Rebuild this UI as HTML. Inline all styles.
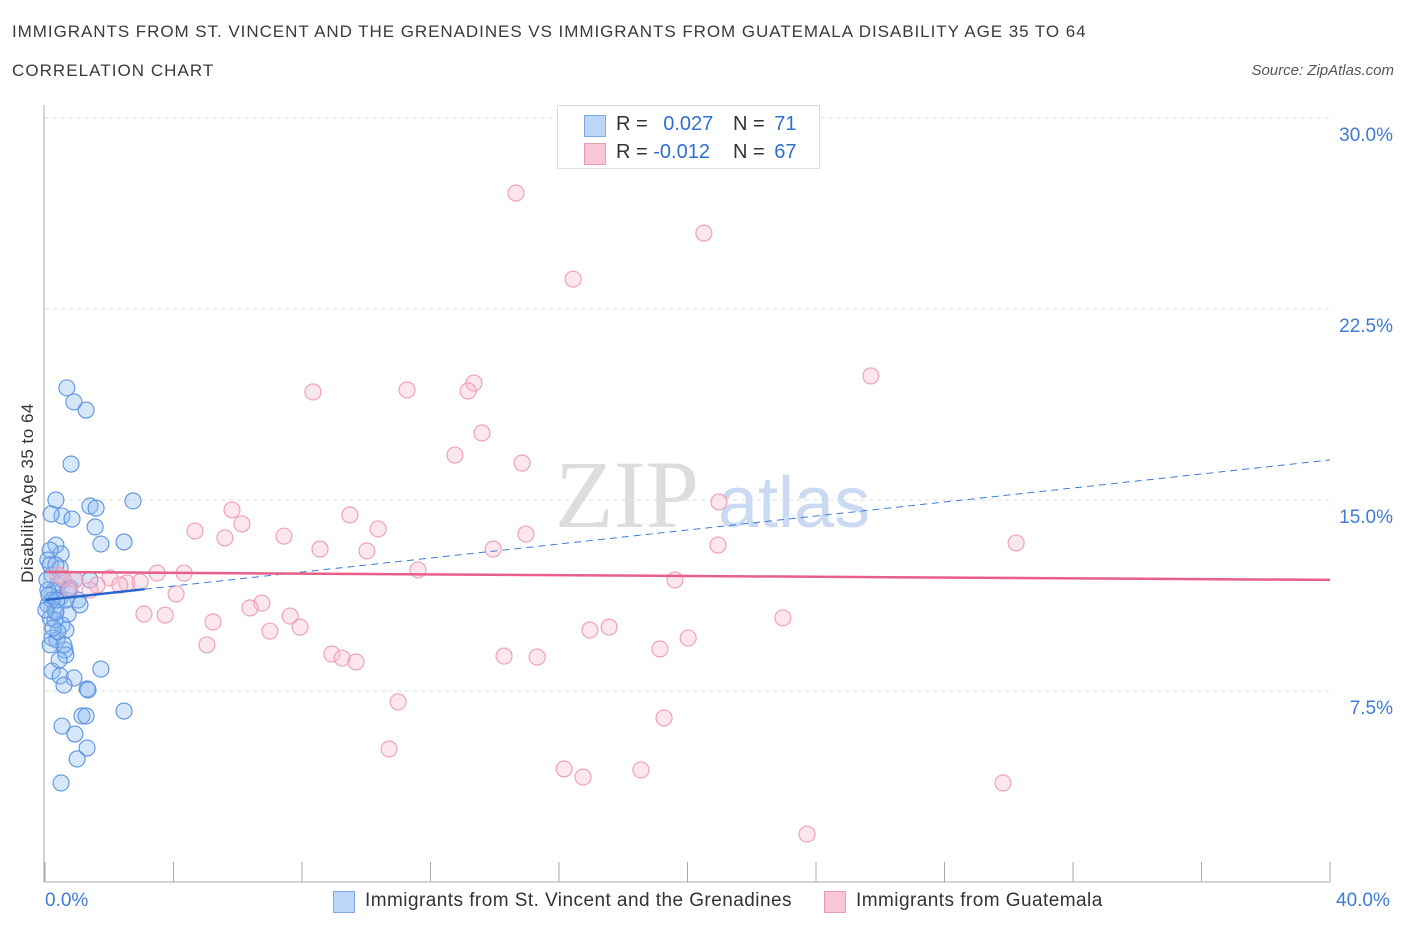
<!DOCTYPE html>
<html><head><meta charset="utf-8"><style>
body{margin:0;background:#fff;font-family:"Liberation Sans",sans-serif;}
.t{position:absolute;color:#333;}
</style></head><body>
<div style="position:relative;width:1406px;height:930px;overflow:hidden">
<div class="t" style="left:12px;top:22px;font-size:17px;letter-spacing:0.95px;color:#3a3a3a">IMMIGRANTS FROM ST. VINCENT AND THE GRENADINES VS IMMIGRANTS FROM GUATEMALA DISABILITY AGE 35 TO 64</div>
<div class="t" style="left:12px;top:61px;font-size:17px;letter-spacing:1.05px;color:#3a3a3a">CORRELATION CHART</div>
<div class="t" style="right:12px;top:62px;font-size:15px;font-style:italic;color:#555">Source: ZipAtlas.com</div>
<svg id="svg" width="1406" height="930" style="position:absolute;left:0;top:0"></svg>
<div style="position:absolute;left:557px;top:105px;width:261px;height:62px;border:1px solid #ddd;background:#fff;font-size:20px">
 <div style="position:absolute;left:26px;top:9px;width:20px;height:20px;background:#bcd6f7;border:1px solid #7fa9e6"></div>
 <div style="position:absolute;left:26px;top:37px;width:20px;height:20px;background:#f9c8d6;border:1px solid #eb9ab2"></div>
 <div class="t" style="left:58px;top:7px">R = <span style="color:#2f6fd0;margin-left:10px">0.027</span></div>
 <div class="t" style="left:175px;top:7px">N = <span style="color:#2f6fd0;margin-left:4px">71</span></div>
 <div class="t" style="left:58px;top:35px">R = <span style="color:#2f6fd0">-0.012</span></div>
 <div class="t" style="left:175px;top:35px">N = <span style="color:#2f6fd0;margin-left:4px">67</span></div>
</div>
<div class="t" style="left:45px;top:890px;font-size:19px;color:#3d7bd6">0.0%</div>
<div class="t" style="left:1336px;top:890px;font-size:19px;color:#3d7bd6">40.0%</div>
<div style="position:absolute;left:333px;top:891px;width:20px;height:20px;background:#bcd6f7;border:1px solid #7fa9e6"></div>
<div class="t" style="left:365px;top:890px;font-size:19px;letter-spacing:0.45px">Immigrants from St. Vincent and the Grenadines</div>
<div style="position:absolute;left:824px;top:891px;width:20px;height:20px;background:#f9c8d6;border:1px solid #eb9ab2"></div>
<div class="t" style="left:856px;top:890px;font-size:19px;letter-spacing:0.45px">Immigrants from Guatemala</div>
<div class="t" style="left:-72px;top:483px;font-size:17px;letter-spacing:0.5px;transform:rotate(-90deg);width:200px;white-space:nowrap;text-align:center">Disability Age 35 to 64</div>
</div>
<script>
const yTicks=[7.5,15,22.5,30];
const yTickLabels=["7.5%","15.0%","22.5%","30.0%"];
const blueX=[0.68,0.90,1.28,0.81,0.34,0.53,0.84,1.40,1.59,2.74,1.56,0.19,1.74,2.46,0.34,0.50,0.16,0.09,0.22,0.40,0.28,0.47,0.93,1.40,1.03,0.09,0.31,0.72,1.09,0.16,0.53,0.65,0.22,0.37,0.62,0.65,0.22,0.47,0.90,1.74,0.59,1.31,1.34,2.46,1.15,1.28,0.53,0.93,1.31,1.00,0.50,0.09,0.16,0.06,0.47,0.65,0.78,0.31,0.40,0.22,0.12,0.56,0.34,0.59,0.25,0.44,0.16,0.03,0.34,0.72,0.37];
const blueY=[19.4,18.85,18.53,16.41,15.0,14.37,14.25,14.76,14.68,14.96,13.94,14.45,13.27,13.35,13.23,12.88,13.03,12.64,12.05,11.66,11.46,11.15,11.86,11.86,11.07,10.88,10.68,10.52,10.88,10.37,10.09,9.89,9.58,9.50,9.11,8.91,8.28,8.09,8.01,8.36,7.73,7.58,7.54,6.71,6.52,6.52,6.12,5.81,5.26,4.83,3.89,11.46,12.45,11.86,12.33,11.07,11.54,10.29,9.82,11.07,11.27,11.86,10.60,9.31,9.97,8.72,9.31,10.68,12.45,11.46,11.07];
const pinkX=[14.66,20.51,16.44,25.71,8.34,11.27,13.35,13.17,13.60,12.76,14.85,20.98,5.82,9.49,6.13,4.67,5.60,10.37,7.44,14.97,20.95,30.23,8.56,10.02,13.95,3.49,4.33,11.61,19.61,2.02,2.55,2.96,0.56,0.93,1.62,4.08,6.75,6.38,3.08,3.74,5.23,7.63,7.94,7.00,16.96,17.56,22.97,20.02,19.14,5.04,8.93,9.25,9.68,14.29,15.32,10.99,19.27,10.71,16.16,16.75,18.55,29.82,23.72,0.78,0.40,1.40,2.33];
const pinkY=[27.05,25.48,23.67,19.87,19.24,19.32,19.59,19.28,17.63,16.76,16.45,14.92,14.61,14.41,14.06,13.78,13.51,13.86,13.58,13.66,13.23,13.31,13.07,13.0,13.07,12.13,12.13,12.25,11.86,11.94,11.74,11.78,11.94,11.86,11.66,11.31,10.95,10.76,10.52,10.48,10.21,10.44,10.01,9.85,9.89,10.01,10.37,9.58,9.15,9.31,8.95,8.79,8.64,8.87,8.83,7.07,6.44,5.22,4.44,4.12,4.40,3.89,1.88,11.46,12.05,11.46,11.66];
const blueTrend=[11.07,16.57];
const pinkTrend=[12.17,11.86];
const X=v=>45+v*32.125, Y=v=>882-v*25.47;
const s=document.getElementById('svg');const NS="http://www.w3.org/2000/svg";
function mk(t,a){const e=document.createElementNS(NS,t);for(const k in a)e.setAttribute(k,a[k]);s.appendChild(e);return e;}
yTicks.forEach((v,i)=>{
 const g=mk('line',{x1:45,x2:1330,y1:Y(v),y2:Y(v),stroke:'#ddd','stroke-dasharray':'4,4'});
 
 
 const t=mk('text',{x:1393,y:Y(v)+23,'text-anchor':'end','font-size':19,fill:'#3d7bd6','font-family':'Liberation Sans'});
 t.textContent=yTickLabels[i];
 
 
});
const ax=mk('line',{x1:44,x2:44,y1:105,y2:882,stroke:'#aaa'});


const bx=mk('line',{x1:44,x2:1330,y1:882,y2:882,stroke:'#aaa'});


for(let i=0;i<=10;i++){const tk=mk('line',{x1:X(i*4),x2:X(i*4),y1:862,y2:882,stroke:'#aaa'});
 
 }
const wm=mk('text',{x:555,y:527,'font-size':96,fill:'#ddd','font-family':'Liberation Serif'});wm.textContent='ZIP';


const wm2=mk('text',{x:718,y:527,'font-size':72,fill:'#c9daf2','font-family':'Liberation Sans'});wm2.textContent='atlas';


blueX.forEach((x,i)=>{const c=mk('circle',{cx:X(x),cy:Y(blueY[i]),r:8,fill:'rgba(140,185,240,0.35)',stroke:'#5b93e0','stroke-width':1.1});
 
 });
pinkX.forEach((x,i)=>{const c=mk('circle',{cx:X(x),cy:Y(pinkY[i]),r:8,fill:'rgba(248,185,205,0.35)',stroke:'#ee9cb6','stroke-width':1.1});
 
 });
const bl=(x)=>blueTrend[0]+(blueTrend[1]-blueTrend[0])*x/40;
const l1=mk('line',{x1:X(3.1),y1:Y(bl(3.1)),x2:X(40),y2:Y(bl(40)),stroke:'#3d7bd6','stroke-width':1,'stroke-dasharray':'7,5'});


const l2=mk('line',{x1:X(0),y1:Y(bl(0)),x2:X(3.1),y2:Y(bl(3.1)),stroke:'#2a66cc','stroke-width':2.5});


const l3=mk('line',{x1:X(0),y1:Y(pinkTrend[0]),x2:X(40),y2:Y(pinkTrend[1]),stroke:'#e8608a','stroke-width':2.5});


</script>
</body></html>
